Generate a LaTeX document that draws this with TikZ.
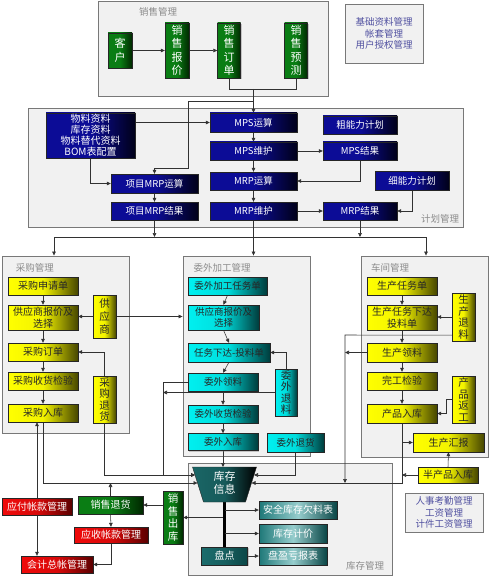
\documentclass[tikz,border=0pt]{standalone}
\usepackage{fontspec}
\setmainfont{Noto Sans CJK SC}
\usetikzlibrary{arrows.meta,shadows}
\pgfdeclarelayer{back}
\pgfdeclarelayer{mid}
\pgfsetlayers{back,mid,main}
\definecolor{navyl}{RGB}{12,12,150}
\definecolor{navyd}{RGB}{0,0,25}
\definecolor{cyanl}{RGB}{0,240,240}
\definecolor{cyand}{RGB}{0,60,60}
\definecolor{grnl}{RGB}{10,125,20}
\definecolor{grnd}{RGB}{0,40,0}
\definecolor{redl}{RGB}{240,10,10}
\definecolor{redd}{RGB}{90,0,0}
\definecolor{tealm}{RGB}{30,120,120}
\definecolor{teall}{RGB}{150,205,205}
\definecolor{teald}{RGB}{10,70,70}
\definecolor{yelw}{RGB}{255,255,0}
\definecolor{yeld}{RGB}{70,70,0}
\definecolor{infotxt}{RGB}{80,80,160}
\definecolor{framebg}{RGB}{241,241,241}
\definecolor{framedr}{RGB}{120,120,120}
\definecolor{lblc}{RGB}{140,140,140}
\definecolor{linec}{RGB}{50,50,50}
\newcommand\myfs[2]{\fontsize{#1}{#2}\selectfont}
\tikzset{
 sz/.style 2 args={minimum width=#1pt, minimum height=#2pt},
 frame/.style={draw=framedr, fill=framebg, line width=0.9pt, inner sep=0pt},
 flabel/.style={text=lblc, font=\myfs{9.5}{11}, inner sep=0pt},
 infobox/.style={draw=framedr, fill=framebg, line width=0.9pt, inner sep=0pt, align=center, text=infotxt, font=\myfs{9.5}{11.5}},
 box/.style={draw=black!85, line width=0.4pt, inner sep=0pt, align=center,
   drop shadow={shadow xshift=1.2pt, shadow yshift=-1.2pt, opacity=0.4}},
 ybox/.style={box, left color=yelw, right color=yeld, middle color=yelw!95!black, text=black!85, font=\myfs{10}{11.5}},
 bbox/.style={box, left color=navyl, right color=navyd, middle color=navyl, text=white, font=\myfs{9.5}{11}},
 cbox/.style={box, left color=cyanl, right color=cyand, middle color=cyanl!92!black, text=black!85, font=\myfs{9.5}{11.5}},
 gbox/.style={box, left color=grnl, right color=grnd, middle color=grnl, text=white, font=\myfs{10}{11.5}},
 rbox/.style={box, left color=redl, right color=redd, middle color=redl!90!black, text=white, font=\myfs{10}{11.5}},
 tbox/.style={box, left color=tealm, right color=teald, middle color=teall, text=white, font=\myfs{10}{11.5}},
 pbox/.style={box, left color=tealm!90!black, right color=teald, middle color=tealm!80!black, text=white, font=\myfs{10}{11.5}},
 ln/.style={draw=linec, line width=0.55pt},
 arr/.style={draw=linec, line width=0.55pt, -{Triangle[length=4pt,width=3.6pt]}},
 spine/.style={draw=black, line width=3pt}
}
\begin{document}
\begin{tikzpicture}[x=1pt,y=-1pt]
\useasboundingbox (0,0) rectangle (496,580);
\begin{pgfonlayer}{back}
\node[frame, sz={230}{95}] (xsf) at (213,48.5) {};
\node[frame, sz={435}{119}] (jhf) at (245.5,167.5) {};
\node[frame, sz={127}{177}] (cgf) at (65.5,344.5) {};
\node[frame, sz={127}{200}] (wwf) at (246.5,356) {};
\node[frame, sz={127}{201}] (cjf) at (424.5,356.5) {};
\node[frame, sz={204}{112}] (kcf) at (290,519) {};
\end{pgfonlayer}
\node[flabel] (xsl) at (158,12) {销售管理};
\node[flabel] (jhl) at (440,219) {计划管理};
\node[flabel] (cgl) at (35,268) {采购管理};
\node[flabel] (wwl) at (222,268) {委外加工管理};
\node[flabel] (cjl) at (390,268) {车间管理};
\node[flabel] (kcl) at (365,566) {库存管理};
\node[infobox, sz={78}{59}] (jc) at (384,33.5) {基础资料管理\\帐套管理\\用户授权管理};
\node[infobox, sz={78}{39}] (rs) at (444,512.5) {人事考勤管理\\工资管理\\计件工资管理};
% sales
\node[gbox, sz={24}{35}, font=\myfs{11}{14}] (kh) at (120,50.5) {客\\户};
\node[gbox, sz={24}{55}, font=\myfs{11}{13.5}] (xsbj) at (177,50.5) {销\\售\\报\\价};
\node[gbox, sz={23}{55}, font=\myfs{11}{13.5}] (xsdd) at (229,50.5) {销\\售\\订\\单};
\node[gbox, sz={23}{55}, font=\myfs{11}{13.5}] (xsyc) at (296,50.5) {销\\售\\预\\测};
% planning
\node[bbox, sz={89}{45}, font=\myfs{10}{11}] (wl) at (90.5,135.5) {物料资料\\库存资料\\物料替代资料\\BOM表配置};
\node[bbox, sz={87}{19}] (xmys) at (154.5,183.5) {项目MRP运算};
\node[bbox, sz={87}{18}] (xmjg) at (154.5,211) {项目MRP结果};
\node[bbox, sz={87}{19}] (mpsys) at (253.5,122.5) {MPS运算};
\node[bbox, sz={87}{18}] (mpswh) at (253.5,151) {MPS维护};
\node[bbox, sz={87}{18}] (mrpys) at (253.5,181) {MRP运算};
\node[bbox, sz={87}{18}] (mrpwh) at (253.5,211) {MRP维护};
\node[bbox, sz={74}{18}] (cnl) at (360,125) {粗能力计划};
\node[bbox, sz={74}{18}] (mpsjg) at (360,151) {MPS结果};
\node[bbox, sz={74}{19}] (xnl) at (412,180.5) {细能力计划};
\node[bbox, sz={74}{18}] (mrpjg) at (360,211) {MRP结果};
% purchase
\node[ybox, sz={70}{18}] (cgsq) at (43,286) {采购申请单};
\node[ybox, sz={70}{25}] (gybj) at (43,317.5) {供应商报价及\\选择};
\node[ybox, sz={70}{18}] (cgdd) at (43,352) {采购订单};
\node[ybox, sz={70}{18}] (cgjy) at (43,381) {采购收货检验};
\node[ybox, sz={70}{18}] (cgrk) at (43,413) {采购入库};
\node[ybox, sz={23}{43}, font=\myfs{10.5}{13}] (gys) at (104.5,316.5) {供\\应\\商};
\node[ybox, sz={23}{47}, font=\myfs{10.5}{11.5}] (cgth) at (104.5,399.5) {采\\购\\退\\货};
% outsourcing
\node[cbox, sz={79}{18}] (wwrw) at (227.5,286) {委外加工任务单};
\node[cbox, sz={71}{25}] (wwbj) at (223.5,317.5) {供应商报价及\\选择};
\node[cbox, sz={82}{19}] (wwxd) at (229,352.5) {任务下达-投料单};
\node[cbox, sz={70}{18}] (wwll) at (223,382) {委外领料};
\node[cbox, sz={70}{18}] (wwjy) at (223,414) {委外收货检验};
\node[cbox, sz={70}{17}] (wwrk) at (223,442) {委外入库};
\node[cbox, sz={22}{47}, font=\myfs{10.5}{11.5}] (wwtl) at (286,392.5) {委\\外\\退\\料};
\node[cbox, sz={57}{19}] (wwth) at (295.5,442.5) {委外退货};
% workshop
\node[ybox, sz={70}{18}] (scrw) at (402,286) {生产任务单};
\node[ybox, sz={70}{25}] (sctl) at (402,317.5) {生产任务下达\\投料单};
\node[ybox, sz={70}{19}] (scll) at (402,352.5) {生产领料};
\node[ybox, sz={70}{18}] (wgjy) at (402,381) {完工检验};
\node[ybox, sz={70}{19}] (cprk) at (402,413.5) {产品入库};
\node[ybox, sz={23}{48}, font=\myfs{10.5}{11.5}] (sctl2) at (463.5,317) {生\\产\\退\\料};
\node[ybox, sz={23}{47}, font=\myfs{10.5}{11.5}] (cpfg) at (463.5,399.5) {产\\品\\返\\工};
\node[ybox, sz={71}{19}] (schb) at (448.5,442.5) {生产汇报};
\node[ybox, sz={60}{16}] (bcp) at (448,475) {半产品入库};
% inventory
\shade[draw=black!85, left color=tealm!85!black, right color=black, middle color=tealm!75!black]
  (192.5,467) -- (256.5,467) -- (245.5,502) -- (203.5,502) -- cycle;
\node[text=white, font=\myfs{11}{13}, align=center, inner sep=0pt] (inv) at (224.5,483) {库存\\信息};
\node[tbox, sz={78}{18}] (aqkc) at (298,510) {安全库存欠料表};
\node[tbox, sz={68}{19}] (kcjj) at (293,533.5) {库存计价};
\node[pbox, sz={46}{18}] (pd) at (224.5,556) {盘点};
\node[tbox, sz={68}{18}] (pyk) at (293,556) {盘盈亏报表};
% finance / sales-out
\node[rbox, sz={70}{17}] (yf) at (37,506.5) {应付帐款管理};
\node[rbox, sz={74}{16}] (ys) at (111,535) {应收帐款管理};
\node[rbox, sz={72}{17}] (zz) at (57,564.5) {会计总帐管理};
\node[gbox, sz={65}{18}] (xsth) at (110.5,505) {销售退货};
\node[gbox, sz={20}{53}, font=\myfs{10.5}{12.5}] (xsck) at (173,517.5) {销\\售\\出\\库};
% coordinates
\coordinate (j1) at (253.5,89);
\coordinate (j2) at (253.5,101);
\coordinate (k1) at (188,168);
\coordinate (hl) at (54,237);
\coordinate (hr) at (426,237);
\coordinate (h1) at (154.5,237);
\coordinate (h2) at (360,237);
\coordinate (vl) at (163,382);
\coordinate (vr) at (345,335);
\coordinate (invT) at (224.5,467);
\coordinate (invL1) at (195,475);
\coordinate (invL2) at (197.5,483);
\coordinate (invR1) at (254,475);
\coordinate (invR2) at (251.5,483);
\coordinate (spx) at (224.5,502);
\begin{pgfonlayer}{mid}
% sales
\draw[arr] (kh.east) -- (xsbj.west);
\draw[arr] (xsbj.east) -- (xsdd.west);
\draw[ln] (xsdd.south) |- (j1);
\draw[ln] (xsyc.south) |- (j1);
\draw[arr] (j1) -- (mpsys.north);
\draw[arr] (j2) -| (k1) -| (xmys.north);
% planning
\draw[arr] (wl.east |- mpsys.west) -- (mpsys.west);
\draw[arr] (wl.south) |- (xmys.west);
\draw[arr] (xmys.south) -- (xmjg.north);
\draw[arr] (mpsys.south) -- (mpswh.north);
\draw[arr] (mpswh.south) -- (mrpys.north);
\draw[arr] (mrpys.south) -- (mrpwh.north);
\draw[arr] (mpswh.east) -- (mpsjg.west);
\draw[arr] (mpsjg.south) |- (mrpys.east);
\draw[arr] (xnl.south) |- (mrpjg.east);
\draw[arr] (mrpwh.east) -- (mrpjg.west);
\draw[arr] (xmjg.south) -- (h1);
\draw[arr] (mrpjg.south) -- (h2);
\draw[ln] (hl) -- (hr);
\draw[arr] (hl) -- (hl |- cgf.north);
\draw[arr] (hr) -- (hr |- cjf.north);
\draw[arr] (mrpwh.south) -- (mrpwh.south |- wwf.north);
% purchase
\draw[arr] (cgsq.south) -- (gybj.north);
\draw[arr] (gybj.south) -- (cgdd.north);
\draw[arr] (cgdd.south) -- (cgjy.north);
\draw[arr] (cgjy.south) -- (cgrk.north);
\draw[arr] (gys.west) -- (gys.west -| gybj.east);
\draw[arr] (gys.east) -- (gys.east -| wwf.west);
\draw[arr] (cgth.north) |- (cgdd.east);
\draw[arr] (cgth.south) |- (invL1);
\draw[arr] (cgrk.south) |- (invL2);
\draw[arr] (yf.north) -- (yf.north |- cgrk.south);
\draw[arr] (yf.south) -- (yf.south |- zz.north);
% sales out / finance
\draw[arr] (xsck.west |- xsth.east) -- (xsth.east);
\draw[arr] (xsth.north) -- (xsth.north |- invL2);
\draw[arr] (xsth.south) -- (ys.north);
\draw[arr] (ys.south) |- (zz.east);
\draw[arr] (spx |- xsck.east) -- (xsck.east);
% outsourcing
\draw[arr] (wwrw.south) -- (wwbj.north);
\draw[arr] (wwbj.south) -- (wwxd.north);
\draw[arr] (wwxd.south) -- (wwll.north);
\draw[arr] (wwll.south) -- (wwjy.north);
\draw[arr] (wwjy.south) -- (wwrk.north);
\draw[arr] (wwrk.south) -- (wwrk.south |- invT);
\draw[arr] (wwtl.north) |- (wwxd.east);
\draw[arr] (wwtl.west) -- (wwtl.west -| vl);
\draw[arr] (wwll.west) -- (vl) -- (vl |- invL1) -- (invL1);
\draw[arr] (wwth.south) |- (invR1);
% workshop
\draw[arr] (scrw.south) -- (sctl.north);
\draw[arr] (sctl.south) -- (scll.north);
\draw[arr] (scll.south) -- (wgjy.north);
\draw[arr] (wgjy.south) -- (cprk.north);
\draw[arr] (sctl2.west) -- (sctl2.west -| sctl.east);
\draw[arr] ([yshift=6pt]sctl2.south west) -- (vr) -- (vr |- invR2);
\draw[arr] (scll.west) -- (scll.west -| vr);
\draw[arr] (cpfg.west) -- ++(-6,0) |- (cprk.east);
\draw[arr] (cprk.south) |- (invR2);
\draw[arr] (cprk.south |- schb.west) -- (schb.west);
\draw[arr] (bcp.west) -- (bcp.west -| cprk.south);
\draw[arr] (bcp.north) -- (schb.south);
% inventory
\draw[spine] (spx) -- (pd.north);
\draw[arr] (spx |- aqkc.west) -- (aqkc.west);
\draw[arr] (spx |- kcjj.west) -- (kcjj.west);
\draw[arr] (pd.east) -- (pyk.west);
\end{pgfonlayer}
\end{tikzpicture}
\end{document}
